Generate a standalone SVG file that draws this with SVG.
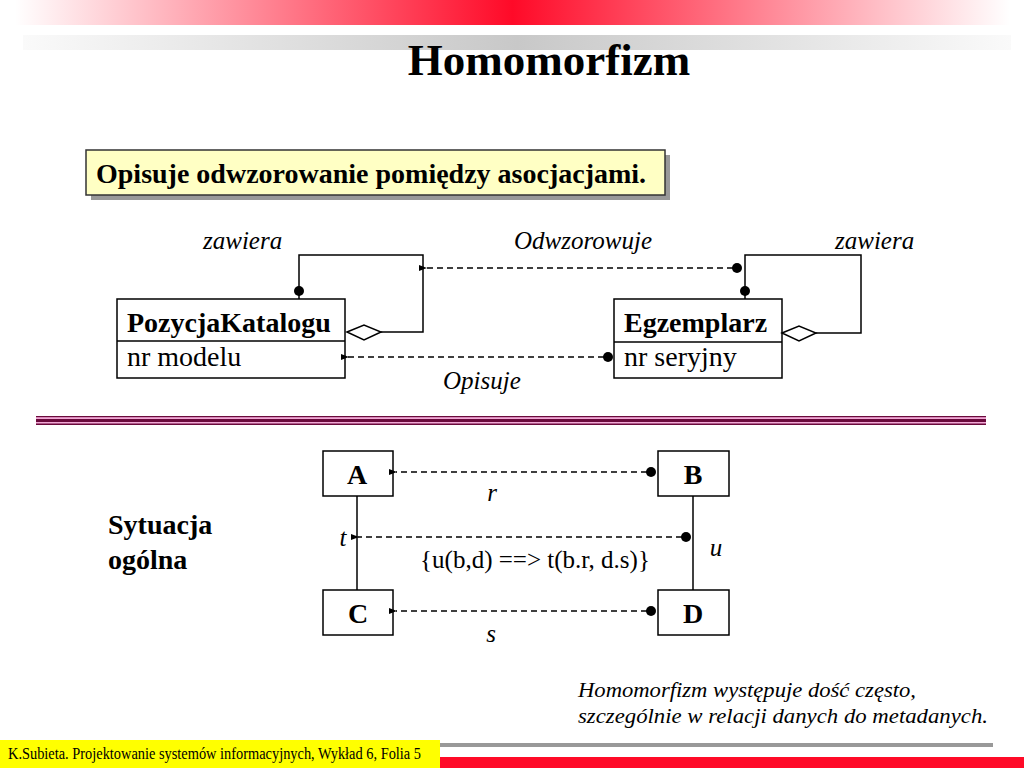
<svg xmlns="http://www.w3.org/2000/svg" width="1024" height="768" viewBox="0 0 1024 768">
<defs>
<linearGradient id="red" x1="0" y1="0" x2="1" y2="0">
<stop offset="0" stop-color="#ffffff"/>
<stop offset="0.5" stop-color="#ff0a28"/>
<stop offset="1" stop-color="#ffffff"/>
</linearGradient>
<linearGradient id="gray" x1="0" y1="0" x2="1" y2="0">
<stop offset="0" stop-color="#fafafa"/>
<stop offset="0.5" stop-color="#c8c8c8"/>
<stop offset="1" stop-color="#fafafa"/>
</linearGradient>
<marker id="arr" markerWidth="8" markerHeight="8" refX="1" refY="4" orient="auto" markerUnits="userSpaceOnUse">
<path d="M8,1 L0,4 L8,7 Z" fill="#000"/>
</marker>
<style>
text{font-family:"Liberation Serif","Times New Roman",Times,serif;fill:#000}
.box{fill:#fff;stroke:#000;stroke-width:1.5}
.ln{fill:none;stroke:#000;stroke-width:1.5}
.dash{fill:none;stroke:#000;stroke-width:1.3;stroke-dasharray:6,4}
.dia{fill:#fff;stroke:#000;stroke-width:1.5}
.dot{fill:#000}
.b{font-weight:bold;font-size:28px}
.r{font-size:28px}
.i{font-style:italic;font-size:25px}
</style>
</defs>
<rect x="0" y="0" width="1024" height="768" fill="#fff"/>
<rect x="15" y="0" width="995" height="25" fill="url(#red)"/>
<rect x="23" y="35" width="988" height="15" fill="url(#gray)"/>
<text x="549" y="75" text-anchor="middle" style="font-weight:bold;font-size:45px">Homomorfizm</text>

<g id="note">
<rect x="91" y="155" width="579" height="45" fill="#999"/>
<rect x="86" y="150" width="579" height="45" fill="#ffffc4" stroke="#333" stroke-width="1.5"/>
<text x="96" y="183" class="b">Opisuje odwzorowanie pomiędzy asocjacjami.</text>
</g>

<g id="PozycjaKatalogu">
<rect x="117" y="299" width="228" height="79" class="box"/>
<line x1="117" y1="341" x2="345" y2="341" class="ln"/>
<text x="127" y="332" class="b">PozycjaKatalogu</text>
<text x="127" y="366" class="r">nr modelu</text>
</g>
<g id="Egzemplarz">
<rect x="614" y="299" width="168" height="79" class="box"/>
<line x1="614" y1="342" x2="782" y2="342" class="ln"/>
<text x="624" y="332" class="b">Egzemplarz</text>
<text x="624" y="366" class="r">nr seryjny</text>
</g>

<g id="A"><rect x="323" y="451" width="70" height="45" class="box"/><text x="357" y="484" text-anchor="middle" class="b">A</text></g>
<g id="B"><rect x="658" y="451" width="71" height="45" class="box"/><text x="693" y="484" text-anchor="middle" class="b">B</text></g>
<g id="C"><rect x="323" y="590" width="70" height="45" class="box"/><text x="358" y="623" text-anchor="middle" class="b">C</text></g>
<g id="D"><rect x="658" y="590" width="71" height="45" class="box"/><text x="693" y="623" text-anchor="middle" class="b">D</text></g>

<g id="connectors">
<path d="M299,299 V255 H423 V332 H381" class="ln"/>
<path d="M347,332 L364,325 L381,332 L364,340 Z" class="dia"/>
<circle cx="299" cy="291" r="5" class="dot"/>
<path d="M745,299 V255 H861 V333 H816" class="ln"/>
<path d="M782,333 L799,326 L816,333 L799,341 Z" class="dia"/>
<circle cx="745" cy="291" r="5" class="dot"/>
<line x1="733" y1="268" x2="426" y2="268" class="dash" marker-end="url(#arr)"/>
<circle cx="737" cy="268" r="5" class="dot"/>
<line x1="604" y1="357" x2="348" y2="357" class="dash" marker-end="url(#arr)"/>
<circle cx="608" cy="357" r="5" class="dot"/>

<line x1="357" y1="496" x2="357" y2="590" class="ln"/>
<line x1="693" y1="496" x2="693" y2="590" class="ln"/>
<line x1="647" y1="472" x2="396" y2="472" class="dash" marker-end="url(#arr)"/>
<circle cx="651" cy="472" r="5" class="dot"/>
<line x1="682" y1="537" x2="358" y2="537" class="dash" marker-end="url(#arr)"/>
<circle cx="686" cy="537" r="5" class="dot"/>
<line x1="647" y1="611" x2="396" y2="611" class="dash" marker-end="url(#arr)"/>
<circle cx="651" cy="611" r="5" class="dot"/>
</g>

<g id="labels">
<text x="203" y="249" class="i">zawiera</text>
<text x="583" y="249" text-anchor="middle" class="i">Odwzorowuje</text>
<text x="835" y="249" class="i">zawiera</text>
<text x="443" y="389" class="i">Opisuje</text>
<text x="492" y="501" text-anchor="middle" class="i">r</text>
<text x="343" y="546" text-anchor="middle" class="i">t</text>
<text x="716" y="556" text-anchor="middle" class="i">u</text>
<text x="491" y="642" text-anchor="middle" class="i">s</text>
<text x="535" y="568" text-anchor="middle" style="font-size:25px">{u(b,d) ==&gt; t(b.r, d.s)}</text>
<text x="108" y="534" class="b">Sytuacja</text>
<text x="108" y="569" class="b">ogólna</text>
</g>

<g id="separator">
<rect x="36" y="416" width="950" height="9" fill="#f2a8d6"/>
<rect x="36" y="416" width="950" height="1.2" fill="#6a0a3c"/>
<rect x="36" y="419" width="950" height="3" fill="#6a0a3c"/>
<rect x="36" y="423.5" width="950" height="1.5" fill="#6a0a3c"/>
</g>

<text x="578" y="697" style="font-style:italic;font-size:22px" textLength="338" lengthAdjust="spacingAndGlyphs">Homomorfizm występuje dość często,</text>
<text x="578" y="723" style="font-style:italic;font-size:22px" textLength="410" lengthAdjust="spacingAndGlyphs">szczególnie w relacji danych do metadanych.</text>

<rect x="0" y="740" width="440" height="28" fill="#ffff00"/>
<rect x="440" y="743" width="553" height="4" fill="#999"/>
<rect x="440" y="757" width="584" height="11" fill="#ff0a28"/>
<text x="8" y="759" style="font-size:16px" textLength="413" lengthAdjust="spacingAndGlyphs">K.Subieta. Projektowanie systemów informacyjnych, Wykład 6, Folia 5</text>
</svg>
